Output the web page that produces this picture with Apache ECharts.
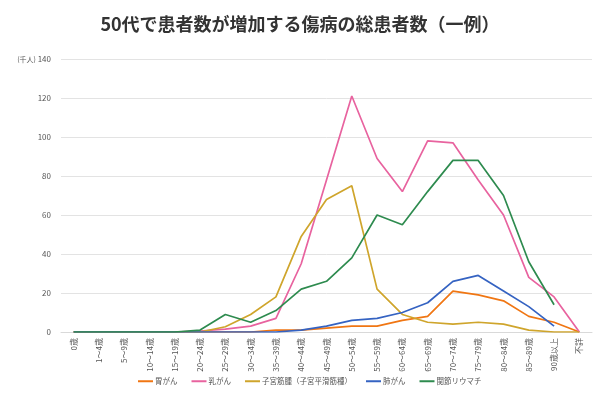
<!DOCTYPE html>
<html>
<head>
<meta charset="UTF-8">
<title>50代で患者数が増加する傷病の総患者数</title>
<script src="https://cdn.jsdelivr.net/npm/echarts@6/dist/echarts.min.js"></script>
<style>
  html, body { margin: 0; padding: 0; background: #fff; }
  #main { width: 600px; height: 405px; }
</style>
</head>
<body>
<div id="main"></div>
<script>
var ages = ['0歳', '1～4歳', '5～9歳', '10～14歳', '15～19歳', '20～24歳', '25～29歳', '30～34歳',
            '35～39歳', '40～44歳', '45～49歳', '50～54歳', '55～59歳', '60～64歳', '65～69歳',
            '70～74歳', '75～79歳', '80～84歳', '85～89歳', '90歳以上', '不詳'];

var stomach = [0, 0, 0, 0, 0, 0, 0, 0, 1, 1, 2, 3, 3, 6, 8, 21, 19, 16, 8, 5, 0];
var breast  = [0, 0, 0, 0, 0, 0.5, 1.5, 3, 7, 35, 78, 121, 89, 72, 98, 97, 78, 60, 28, 18, 0];
var myoma   = [0, 0, 0, 0, 0, 0, 2.7, 9, 18, 49, 68, 75, 22, 9, 5, 4, 5, 4, 1, 0, 0];
var lung    = [0, 0, 0, 0, 0, 0, 0, 0, 0, 1, 3, 6, 7, 10, 15, 26, 29, 21, 13, 3, null];
var rheuma  = [0, 0, 0, 0, 0, 1, 9, 5, 11, 22, 26, 38, 60, 55, 72, 88, 88, 70, 36, 14, null];

var chart = echarts.init(document.getElementById('main'), null, {renderer: 'canvas'});

function line(name, data, color) {
    return {
        name: name, type: 'line', data: data, symbol: 'none',
        lineStyle: {color: color, width: 1.7}, itemStyle: {color: color}
    };
}

chart.setOption({
    animation: false,
    textStyle: {fontFamily: 'Noto Sans CJK JP'},
    title: {
        text: '50代で患者数が増加する傷病の総患者数（一例）',
        left: 'center', top: 10,
        textStyle: {fontSize: 18, fontWeight: 'bold', color: '#333'}
    },
    grid: {left: 61, right: 8, top: 59, bottom: 73},
    xAxis: {
        type: 'category', data: ages, boundaryGap: true,
        axisLine: {lineStyle: {color: '#d9d9d9'}},
        axisTick: {lineStyle: {color: '#d9d9d9'}},
        axisLabel: {rotate: 90, fontSize: 8, color: '#555', interval: 0, margin: 6}
    },
    yAxis: {
        type: 'value', min: 0, max: 140, interval: 20,
        axisLine: {show: false}, axisTick: {show: false},
        splitLine: {lineStyle: {color: '#e3e3e3'}},
        axisLabel: {
            fontSize: 8, color: '#555', margin: 10,
            formatter: function (v) { return v === 140 ? '{u|(千人)} 140' : v; },
            rich: {u: {fontSize: 7, color: '#555'}}
        }
    },
    legend: {
        bottom: 15, left: 133, icon: 'rect', itemWidth: 15, itemHeight: 2, itemGap: 14,
        textStyle: {fontSize: 7.5, color: '#555', padding: [0, 0, 0, -3]}
    },
    series: [
        line('胃がん', stomach, '#f07613'),
        line('乳がん', breast, '#e8639f'),
        line('子宮筋腫（子宮平滑筋種）', myoma, '#cfa52c'),
        line('肺がん', lung, '#3563c2'),
        line('関節リウマチ', rheuma, '#2e8b4f')
    ]
});
</script>
</body>
</html>
